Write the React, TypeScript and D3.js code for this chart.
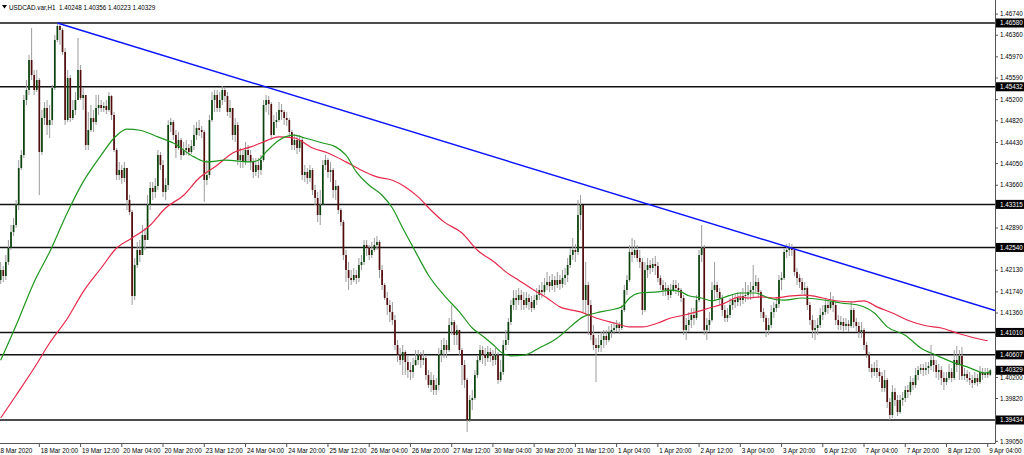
import React from "react";
import * as d3 from "d3";

const W = 1024;
const H = 455;
const PLOT_R = 995;
const PLOT_B = 443;

const symbol = "USDCAD.var,H1";

// H1 candles, 18 Mar 04:00 .. 9 Apr 05:00 (open of each bar = previous close)
const firstOpen = 1.41774;
const closes = [
  1.41954,1.42134,1.42026,1.42278,1.42530,1.42818,1.42944,1.43304,1.43970,1.44204,
  1.45194,1.45374,1.45914,1.45644,1.45374,1.45554,1.44258,1.44870,1.45050,1.44744,
  1.44834,1.45410,1.46274,1.46526,1.46454,1.46058,1.44834,1.45590,1.44870,1.45014,
  1.45194,1.45734,1.45230,1.45284,1.44384,1.44654,1.44870,1.44798,1.45050,1.45104,
  1.45050,1.45086,1.45014,1.45266,1.44924,1.44294,1.43844,1.43934,1.43790,1.43970,
  1.43394,1.43178,1.41666,1.42224,1.42494,1.42404,1.42764,1.42674,1.43304,1.43610,
  1.43538,1.43646,1.44204,1.44024,1.43538,1.43664,1.44744,1.44798,1.44564,1.44330,
  1.44474,1.44204,1.44294,1.44330,1.44258,1.44366,1.44564,1.44690,1.44654,1.44618,
  1.43754,1.43844,1.44834,1.45194,1.45284,1.45050,1.45194,1.45374,1.45266,1.44978,
  1.45050,1.44564,1.44744,1.44114,1.44204,1.44078,1.44294,1.44204,1.44078,1.43898,
  1.44024,1.43934,1.44114,1.45104,1.45194,1.45122,1.44564,1.44798,1.44834,1.45014,
  1.44978,1.44870,1.44834,1.44618,1.44384,1.44474,1.44330,1.44474,1.43844,1.43898,
  1.43790,1.43934,1.43574,1.43430,1.43124,1.43304,1.44024,1.44114,1.43898,1.43934,
  1.43574,1.43646,1.43214,1.42998,1.42404,1.42134,1.41990,1.41954,1.42044,1.41990,
  1.42224,1.42278,1.42584,1.42530,1.42404,1.42494,1.42584,1.42638,1.42134,1.41864,
  1.41630,1.41504,1.41378,1.41234,1.40784,1.40604,1.40514,1.40658,1.40478,1.40334,
  1.40298,1.40424,1.40514,1.40604,1.40514,1.40550,1.40244,1.40064,1.40154,1.39974,
  1.40064,1.40604,1.40694,1.40784,1.40694,1.41144,1.41198,1.40964,1.41054,1.40694,
  1.40424,1.40154,1.39434,1.39794,1.39830,1.40244,1.40514,1.40694,1.40604,1.40550,
  1.40658,1.40586,1.40514,1.40604,1.40154,1.40298,1.40784,1.40874,1.41198,1.41504,
  1.41630,1.41594,1.41684,1.41594,1.41504,1.41630,1.41558,1.41450,1.41594,1.41684,
  1.41774,1.41738,1.41864,1.41918,1.41846,1.41954,1.41864,1.41954,1.41882,1.41990,
  1.42044,1.42224,1.42404,1.42494,1.42458,1.43124,1.43304,1.41594,1.41864,1.41504,
  1.40964,1.40784,1.40730,1.40784,1.40874,1.40946,1.40874,1.41018,1.41054,1.41090,
  1.41144,1.41090,1.41414,1.41774,1.41954,1.42458,1.42404,1.42494,1.42350,1.42278,
  1.41414,1.42134,1.42224,1.42170,1.42242,1.42206,1.41990,1.41864,1.41774,1.41810,
  1.41684,1.41774,1.41864,1.41810,1.41774,1.41630,1.41054,1.41144,1.41234,1.41324,
  1.41270,1.41594,1.42404,1.42530,1.41054,1.41144,1.41234,1.41774,1.41864,1.41738,
  1.41630,1.41414,1.41270,1.41324,1.41504,1.41594,1.41558,1.41630,1.41594,1.41666,
  1.41684,1.41738,1.41774,1.41846,1.41918,1.41738,1.41378,1.41270,1.41054,1.41144,
  1.41378,1.41450,1.41522,1.41954,1.41990,1.42458,1.42494,1.42530,1.42494,1.42098,
  1.41990,1.41918,1.41774,1.41810,1.41504,1.41234,1.41054,1.41090,1.41144,1.41324,
  1.41378,1.41504,1.41450,1.41558,1.41504,1.41234,1.41144,1.41198,1.41126,1.41162,
  1.41126,1.41414,1.41198,1.41126,1.41018,1.41054,1.40784,1.40604,1.40370,1.40298,
  1.40370,1.40298,1.40226,1.40010,1.40154,1.39758,1.39524,1.39938,1.39794,1.39578,
  1.39794,1.39830,1.39974,1.39938,1.40118,1.40064,1.40244,1.40334,1.40370,1.40334,
  1.40370,1.40406,1.40514,1.40424,1.40298,1.40334,1.40190,1.40118,1.40190,1.40298,
  1.40190,1.40514,1.40424,1.40586,1.40226,1.40262,1.40190,1.40154,1.40100,1.40190,
  1.40118,1.40298,1.40244,1.40280,1.40248,1.40329,
];
const highs = [
  1.42044,1.42278,1.42206,1.42404,1.42674,1.42944,1.43070,1.43394,1.44114,1.44294,
  1.45284,1.45554,1.46004,1.46490,1.45734,1.45734,1.45590,1.45014,1.45158,1.45194,
  1.45104,1.45464,1.46364,1.46580,1.46544,1.46490,1.46130,1.45734,1.45644,1.45194,
  1.45338,1.46310,1.45824,1.45410,1.45284,1.44978,1.45104,1.45014,1.45284,1.45284,
  1.45194,1.45158,1.45194,1.45338,1.45284,1.44978,1.44330,1.44078,1.44024,1.44078,
  1.43970,1.43484,1.43214,1.42350,1.42638,1.42674,1.42944,1.42890,1.43484,1.43718,
  1.43718,1.43790,1.44294,1.44258,1.44114,1.43790,1.44834,1.44870,1.44834,1.44654,
  1.44618,1.44510,1.44438,1.44474,1.44402,1.44474,1.44744,1.44798,1.44834,1.44726,
  1.44654,1.44114,1.44924,1.45338,1.45374,1.45374,1.45338,1.45446,1.45428,1.45338,
  1.45194,1.45050,1.44870,1.44798,1.44330,1.44294,1.44438,1.44384,1.44294,1.44150,
  1.44150,1.44150,1.44204,1.45194,1.45284,1.45266,1.45158,1.44924,1.44978,1.45158,
  1.45122,1.45014,1.44978,1.44870,1.44654,1.44582,1.44546,1.44564,1.44510,1.44024,
  1.43970,1.44024,1.43970,1.43664,1.43538,1.43574,1.44114,1.44204,1.44150,1.44078,
  1.43970,1.43754,1.43664,1.43250,1.43034,1.42494,1.42278,1.42134,1.42170,1.42134,
  1.42350,1.42404,1.42674,1.42674,1.42584,1.42638,1.42710,1.42746,1.42674,1.42224,
  1.41900,1.41738,1.41594,1.41558,1.41324,1.40874,1.40730,1.40784,1.40694,1.40604,
  1.40478,1.40550,1.40694,1.40694,1.40658,1.40694,1.40604,1.40334,1.40298,1.40244,
  1.40190,1.40730,1.40874,1.40910,1.40874,1.41270,1.41504,1.41234,1.41144,1.41054,
  1.40730,1.40514,1.40190,1.39884,1.39974,1.40334,1.40604,1.40784,1.40766,1.40730,
  1.40766,1.40730,1.40694,1.40730,1.40658,1.40514,1.40874,1.41054,1.41270,1.41594,
  1.41774,1.41774,1.41810,1.41774,1.41738,1.41738,1.41702,1.41666,1.41684,1.41810,
  1.41864,1.41918,1.41990,1.42098,1.42026,1.42062,1.42026,1.42098,1.42044,1.42134,
  1.42170,1.42350,1.42530,1.42710,1.42602,1.43394,1.43484,1.43304,1.42278,1.41918,
  1.41594,1.41144,1.40910,1.40964,1.41018,1.41054,1.41054,1.41126,1.41162,1.41198,
  1.41234,1.41198,1.41504,1.41864,1.42044,1.42584,1.42710,1.42674,1.42584,1.42494,
  1.42350,1.42278,1.42350,1.42314,1.42350,1.42386,1.42278,1.42044,1.41954,1.41918,
  1.41864,1.41882,1.41954,1.41954,1.41900,1.41810,1.41684,1.41270,1.41378,1.41450,
  1.41450,1.41684,1.42494,1.42944,1.42584,1.41270,1.41378,1.41918,1.42278,1.41918,
  1.41810,1.41684,1.41504,1.41450,1.41630,1.41702,1.41702,1.41738,1.41738,1.41810,
  1.41918,1.41864,1.41918,1.42224,1.42044,1.41990,1.41774,1.41450,1.41324,1.41270,
  1.41504,1.41558,1.41630,1.42044,1.42098,1.42530,1.42602,1.42620,1.42602,1.42530,
  1.42170,1.42062,1.41990,1.41918,1.41846,1.41558,1.41324,1.41234,1.41270,1.41450,
  1.41504,1.41630,1.41594,1.41738,1.41666,1.41558,1.41324,1.41306,1.41270,1.41270,
  1.41234,1.41558,1.41450,1.41270,1.41198,1.41198,1.41090,1.40838,1.40658,1.40442,
  1.40478,1.40514,1.40370,1.40298,1.40334,1.40190,1.39830,1.40064,1.40010,1.39884,
  1.39884,1.39938,1.40046,1.40064,1.40226,1.40190,1.40370,1.40406,1.40442,1.40442,
  1.40478,1.40478,1.40784,1.40586,1.40514,1.40442,1.40406,1.40298,1.40298,1.40442,
  1.40370,1.40694,1.40766,1.40694,1.40748,1.40370,1.40334,1.40298,1.40244,1.40298,
  1.40262,1.40406,1.40370,1.40370,1.40370,1.40356,
];
const lows = [
  1.41738,1.41882,1.41918,1.41954,1.42224,1.42494,1.42746,1.42890,1.43214,1.43934,
  1.44150,1.45104,1.45284,1.45554,1.45284,1.45338,1.43484,1.44204,1.44744,1.44564,
  1.44510,1.44744,1.45374,1.46238,1.46184,1.46004,1.44744,1.44798,1.44798,1.44834,
  1.44924,1.45194,1.45194,1.45014,1.44294,1.44294,1.44618,1.44618,1.44744,1.44924,
  1.44978,1.44978,1.44942,1.44978,1.44834,1.44258,1.43754,1.43754,1.43682,1.43718,
  1.43214,1.43124,1.41504,1.41594,1.42170,1.42278,1.42404,1.42494,1.42674,1.43214,
  1.43394,1.43430,1.43574,1.43934,1.43448,1.43394,1.43574,1.44618,1.44474,1.44150,
  1.44294,1.44114,1.44186,1.44204,1.44186,1.44222,1.44294,1.44474,1.44546,1.44510,
  1.43358,1.43664,1.43790,1.44798,1.44978,1.44978,1.44978,1.45104,1.45158,1.44906,
  1.44870,1.44474,1.44438,1.44024,1.43970,1.43970,1.44024,1.44078,1.43934,1.43790,
  1.43826,1.43790,1.43844,1.44078,1.44978,1.44924,1.44474,1.44564,1.44690,1.44798,
  1.44834,1.44744,1.44726,1.44510,1.44294,1.44294,1.44222,1.44258,1.43754,1.43718,
  1.43682,1.43718,1.43484,1.43304,1.42998,1.42944,1.43304,1.43934,1.43790,1.43718,
  1.43430,1.43394,1.43142,1.42926,1.42314,1.41918,1.41774,1.41864,1.41918,1.41882,
  1.41918,1.42134,1.42224,1.42386,1.42314,1.42350,1.42458,1.42494,1.41990,1.41774,
  1.41594,1.41324,1.41198,1.41144,1.40694,1.40478,1.40424,1.40244,1.40244,1.40190,
  1.40154,1.40190,1.40406,1.40424,1.40370,1.40424,1.40154,1.40010,1.39938,1.39884,
  1.39884,1.39974,1.40478,1.40550,1.40550,1.40658,1.40964,1.40784,1.40784,1.40604,
  1.40064,1.40010,1.39218,1.39398,1.39614,1.39794,1.40190,1.40478,1.40442,1.40406,
  1.40478,1.40478,1.40406,1.40424,1.40082,1.40118,1.40244,1.40694,1.40784,1.41144,
  1.41414,1.41414,1.41504,1.41414,1.41414,1.41450,1.41414,1.41378,1.41414,1.41504,
  1.41594,1.41630,1.41684,1.41774,1.41738,1.41774,1.41738,1.41810,1.41774,1.41810,
  1.41864,1.41918,1.42170,1.42314,1.42278,1.42404,1.42854,1.41378,1.41324,1.40964,
  1.40874,1.40694,1.40118,1.40658,1.40658,1.40730,1.40784,1.40838,1.40910,1.40982,
  1.41018,1.40982,1.41054,1.41378,1.41684,1.41918,1.42278,1.42350,1.42278,1.42170,
  1.41324,1.41378,1.41990,1.42062,1.42098,1.42044,1.41918,1.41774,1.41666,1.41666,
  1.41594,1.41630,1.41738,1.41702,1.41666,1.41558,1.40964,1.40874,1.41018,1.41090,
  1.41144,1.41234,1.41558,1.42278,1.40964,1.40874,1.41018,1.41198,1.41594,1.41630,
  1.41504,1.41306,1.41198,1.41198,1.41270,1.41414,1.41450,1.41486,1.41486,1.41522,
  1.41558,1.41594,1.41594,1.41630,1.41738,1.41630,1.41270,1.41198,1.40928,1.40964,
  1.41090,1.41270,1.41378,1.41450,1.41774,1.41954,1.42350,1.42386,1.42386,1.42026,
  1.41864,1.41810,1.41702,1.41666,1.41414,1.41144,1.40910,1.40874,1.40964,1.41090,
  1.41234,1.41324,1.41342,1.41414,1.41378,1.41144,1.41054,1.41054,1.41018,1.41054,
  1.41018,1.41090,1.41090,1.41018,1.40910,1.40910,1.40694,1.40550,1.40298,1.40190,
  1.40226,1.40190,1.40118,1.39938,1.39938,1.39650,1.39434,1.39470,1.39686,1.39506,
  1.39542,1.39686,1.39758,1.39830,1.39884,1.39974,1.40010,1.40154,1.40262,1.40226,
  1.40244,1.40262,1.40334,1.40298,1.40190,1.40154,1.40064,1.39974,1.40064,1.40154,
  1.40118,1.40154,1.40298,1.40154,1.40154,1.40154,1.40118,1.40064,1.40010,1.40064,
  1.40046,1.40082,1.40154,1.40190,1.40190,1.40223,
];

// moving averages: [bar index, value]
const greenBars = [
  1,7,14,20,27,33,40,45,50,55,62,68,76,81,88,98,101,104,109,115,
  119,126,131,135,139,144,149,153,157,162,167,173,179,184,189,193,195,199,204,210,
  217,222,227,232,237,242,245,249,256,261,265,268,273,277,281,288,294,299,305,312,
  321,327,334,340,345,352,358,364,370,376,383,385,
];
const greenVals = [
  1.4051,1.4114,1.4192,1.4246,1.4318,1.4372,1.4420,1.4451,1.4467,1.4465,
  1.4453,1.4442,1.4417,1.4408,1.4411,1.4408,1.4411,1.4426,1.4447,1.4456,
  1.4451,1.4442,1.4435,1.4420,1.4390,1.4366,1.4348,1.4325,1.4289,1.4246,
  1.4204,1.4168,1.4138,1.4109,1.4091,1.4075,1.4066,1.4059,1.4060,1.4073,
  1.4091,1.4111,1.4129,1.4136,1.4141,1.4147,1.4163,1.4172,1.4174,1.4177,
  1.4174,1.4167,1.4163,1.4158,1.4163,1.4172,1.4172,1.4163,1.4159,1.4163,
  1.4159,1.4154,1.4150,1.4136,1.4111,1.4096,1.4073,1.4060,1.4048,1.4039,
  1.4028,1.4030,
];
const redBars = [
  1,7,14,20,27,33,40,46,52,59,65,72,78,85,91,98,102,109,115,122,
  128,135,141,147,153,158,163,168,173,180,186,193,197,202,208,213,218,226,232,239,
  245,250,256,261,266,271,276,281,288,291,296,301,308,313,320,325,331,336,341,347,
  353,360,366,372,379,384,
];
const redVals = [
  1.3947,1.3988,1.4037,1.4082,1.4127,1.4174,1.4217,1.4253,1.4271,1.4294,
  1.4325,1.4348,1.4379,1.4402,1.4424,1.4435,1.4442,1.4453,1.4451,1.4433,
  1.4424,1.4408,1.4393,1.4381,1.4375,1.4363,1.4345,1.4321,1.4300,1.4280,
  1.4249,1.4226,1.4210,1.4195,1.4177,1.4163,1.4147,1.4138,1.4127,1.4118,
  1.4111,1.4111,1.4118,1.4127,1.4132,1.4138,1.4145,1.4152,1.4165,1.4163,
  1.4165,1.4163,1.4167,1.4168,1.4163,1.4158,1.4156,1.4158,1.4147,1.4136,
  1.4123,1.4113,1.4109,1.4100,1.4091,1.4086,
];

// trendline anchors (bar, price), drawn as a ray to the right
const trendBars = [23, 307];
const trendPrices = [1.4658, 1.4254];

// horizontal levels
const levels = [1.46580, 1.45432, 1.43315, 1.42540, 1.41010, 1.40607, 1.39434];

const priceTicks = [
  "1.46740","1.46360","1.45970","1.45590","1.45200","1.44820","1.44430",
  "1.44050","1.43660","1.43280","1.42890","1.42510","1.42130","1.41740",
  "1.41360","1.40970","1.40590","1.40200","1.39820","1.39430","1.39050",
];

const dateBars = [
  0,16,32,48,64,80,96,112,128,144,160,176,192,208,224,240,256,272,288,304,320,336,352,368,384,
];
const dateTexts = [
  "18 Mar 2020","18 Mar 20:00","19 Mar 12:00","20 Mar 04:00","20 Mar 20:00",
  "23 Mar 12:00","24 Mar 04:00","24 Mar 20:00","25 Mar 12:00","26 Mar 04:00",
  "26 Mar 20:00","27 Mar 12:00","30 Mar 04:00","30 Mar 20:00","31 Mar 12:00",
  "1 Apr 04:00","1 Apr 20:00","2 Apr 12:00","3 Apr 04:00","3 Apr 20:00",
  "6 Apr 12:00","7 Apr 04:00","7 Apr 20:00","8 Apr 12:00","9 Apr 04:00",
];

const FONT = "'Liberation Sans', Arial, sans-serif";
const FS = 6.3;

export default function App() {
  const n = Math.min(closes.length, highs.length, lows.length);
  const x = d3.scaleLinear().domain([0, 385]).range([-1.9, 990.3]);
  const y = d3.scaleLinear().domain([1.39434, 1.4658]).range([420, 23]);
  const opens = closes.map((c, i) => (i === 0 ? firstOpen : closes[i - 1]));

  const trend = d3.scaleLinear().domain(trendBars).range(trendPrices);
  const endBar = x.invert(PLOT_R);
  const trendPath = d3.line<number>()
    .x((b) => x(b))
    .y((b) => y(trend(b)))([trendBars[0], endBar]);

  const maLine = (bars: number[]) =>
    d3.line<number>()
      .x((_, k) => x(bars[k]))
      .y((v) => y(v))
      .curve(d3.curveMonotoneX);

  const greenPath = maLine(greenBars)(greenVals) ?? undefined;
  const redPath = maLine(redBars)(redVals) ?? undefined;

  const last = n - 1;
  const title = `${symbol}  ${opens[last].toFixed(5)} ${highs[last].toFixed(5)} ${lows[last].toFixed(5)} ${closes[last].toFixed(5)}`;
  const boxes = [...levels, closes[last]];

  return (
    <svg
      width={W}
      height={H}
      style={{ position: "absolute", left: 0, top: 0, background: "#fff", fontFamily: FONT }}
    >
      <defs>
        <clipPath id="plot">
          <rect x={0} y={0} width={PLOT_R} height={PLOT_B} />
        </clipPath>
      </defs>

      <g clipPath="url(#plot)">
        {/* levels */}
        {levels.map((l, i) => (
          <line key={i} x1={0} x2={PLOT_R} y1={y(l)} y2={y(l)} stroke="#111" strokeWidth={1.5} />
        ))}

        {/* candles */}
        {d3.range(n).map((i) => {
          const o = opens[i];
          const c = closes[i];
          const hi = Math.max(highs[i], o, c);
          const lo = Math.min(lows[i], o, c);
          const cx = x(i);
          const top = y(Math.max(o, c));
          const bh = Math.max(1, y(Math.min(o, c)) - top);
          return (
            <g key={i}>
              <line x1={cx} x2={cx} y1={y(hi)} y2={y(lo)} stroke="#9d9d9d" strokeWidth={1} />
              <rect
                x={cx - 0.85}
                y={top}
                width={1.7}
                height={bh}
                fill={c >= o ? "#0b420b" : "#520c0c"}
              />
            </g>
          );
        })}

        {/* moving averages */}
        <path d={redPath} fill="none" stroke="#e5294a" strokeWidth={1.2} />
        <path d={greenPath} fill="none" stroke="#1e961e" strokeWidth={1.2} />

        {/* trendline */}
        <path d={trendPath ?? undefined} fill="none" stroke="#0a14ff" strokeWidth={1.5} />
      </g>

      {/* title */}
      <path d="M2,5 L7,5 L4.5,8.5 Z" fill="#000" />
      <text x={9} y={9.5} fontSize={FS} fill="#000">
        {title.replace("  ", "\u00a0\u00a0")}
      </text>

      {/* axes */}
      <line x1={PLOT_R + 0.5} x2={PLOT_R + 0.5} y1={0} y2={PLOT_B} stroke="#555" strokeWidth={1} />
      <line x1={0} x2={PLOT_R + 0.5} y1={PLOT_B + 0.5} y2={PLOT_B + 0.5} stroke="#555" strokeWidth={1} />

      {priceTicks.map((t, i) => {
        const yy = y(+t);
        return (
          <g key={i}>
            <line x1={PLOT_R} x2={PLOT_R + 3} y1={yy} y2={yy} stroke="#555" />
            <text x={PLOT_R + 5} y={yy} dy="0.35em" fontSize={FS} fill="#000">
              {t}
            </text>
          </g>
        );
      })}

      {boxes.map((b, i) => {
        const yy = y(b);
        return (
          <g key={i}>
            <rect x={PLOT_R + 1} y={yy - 4.5} width={W - PLOT_R - 1} height={9} fill="#000" />
            <text x={PLOT_R + 5} y={yy} dy="0.35em" fontSize={FS} fill="#fff">
              {b.toFixed(5)}
            </text>
          </g>
        );
      })}

      {dateBars.map((b, i) => {
        const xx = x(b);
        return (
          <g key={i}>
            {i > 0 && (
              <line x1={xx} x2={xx} y1={PLOT_B} y2={PLOT_B + 4} stroke="#555" />
            )}
            <text x={i === 0 ? -3 : xx + 1.5} y={PLOT_B + 9.5} fontSize={FS} fill="#000">
              {dateTexts[i]}
            </text>
          </g>
        );
      })}
    </svg>
  );
}
